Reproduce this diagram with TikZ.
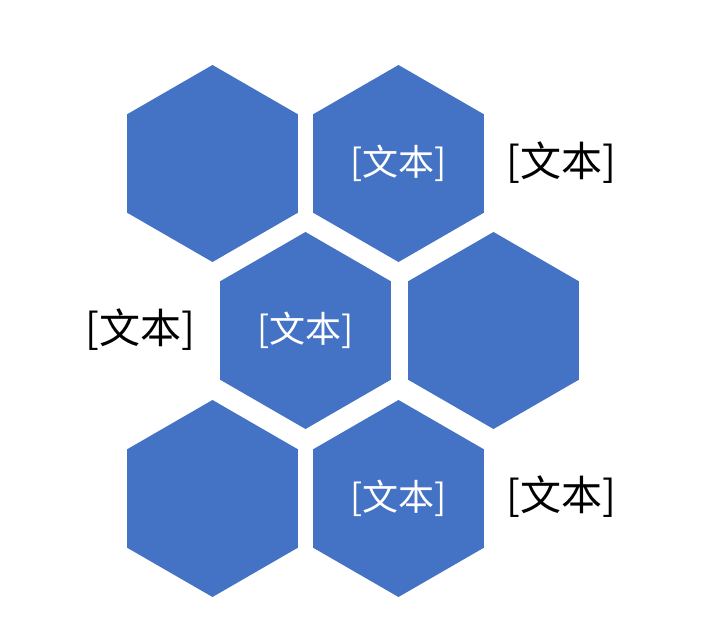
\documentclass[tikz,border=0pt]{standalone}
\usepackage{fontspec}
\newfontfamily\cjk{Noto Sans CJK SC}
\usetikzlibrary{shapes.geometric}
\definecolor{hexblue}{HTML}{4472C4}
\tikzset{
  hexcell/.style={regular polygon, regular polygon sides=6, shape border rotate=90,
    minimum size=197pt, inner sep=0pt, outer sep=0pt, fill=hexblue, draw=none,
    text=white, font=\cjk\fontsize{36}{40}\selectfont},
  sidelabel/.style={font=\cjk\fontsize{41}{45}\selectfont, text=black, inner sep=0pt}
}
\begin{document}
\begin{tikzpicture}[x=1pt,y=-1pt]
\useasboundingbox (0,0) rectangle (713,642);
\node[hexcell] (h1) at (212.5,163.5) {};
\node[hexcell] (h2) at (398.5,163.5) {[文本]};
\node[hexcell] (h3) at (305.5,330.5) {[文本]};
\node[hexcell] (h4) at (493.5,330.5) {};
\node[hexcell] (h5) at (212.5,498.5) {};
\node[hexcell] (h6) at (398.5,498.5) {[文本]};
\node[sidelabel] (l1) at (561,163) {[文本]};
\node[sidelabel] (l2) at (140,330) {[文本]};
\node[sidelabel] (l3) at (561,497) {[文本]};
\end{tikzpicture}
\end{document}
